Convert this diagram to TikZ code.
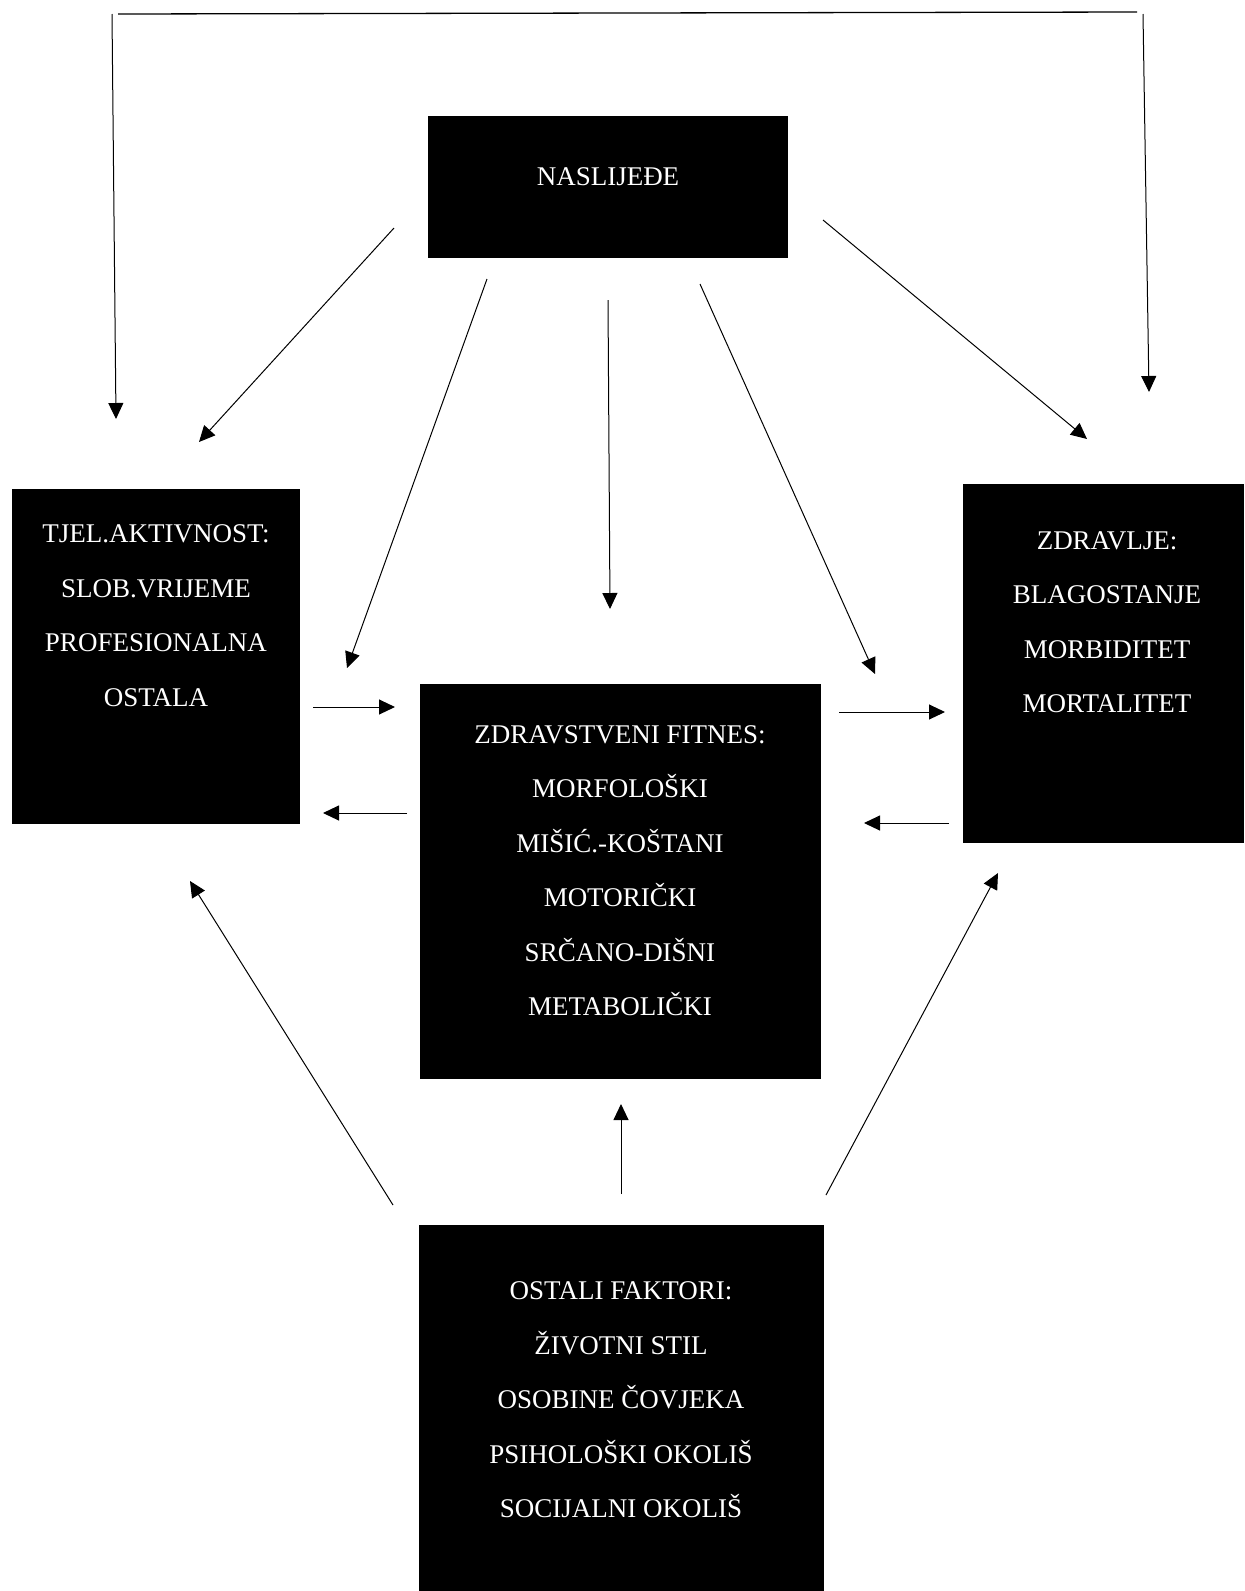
\documentclass[tikz,border=0pt]{standalone}
\usepackage{fontspec}
\setmainfont{Liberation Serif}
\usetikzlibrary{arrows.meta}

\begin{document}
\begin{tikzpicture}[x=0.5pt, y=-0.5pt,
    box/.style={fill=black, inner sep=0pt},
    boxtext/.style={text=white, align=center, inner sep=0pt,
        font=\fontsize{13.5pt}{27.25pt}\selectfont},
    arr/.style={-{Triangle[length=8pt,width=7.5pt]}, line width=0.5pt}]

    % Fix the size of the page
    \useasboundingbox (0,0) rectangle (1244,1591);

    % Draw the black boxes
    \node[box, minimum width=180pt, minimum height=71pt] (naslijede) at (608,187) {};
    \node[box, minimum width=144pt, minimum height=167.5pt] (aktivnost) at (156,656.5) {};
    \node[box, minimum width=200.5pt, minimum height=197.5pt] (fitnes) at (620.5,881.5) {};
    \node[box, minimum width=140.5pt, minimum height=179.5pt] (zdravlje) at (1103.5,663.5) {};
    \node[box, minimum width=202.5pt, minimum height=183pt] (faktori) at (621.5,1408) {};

    % Place the texts inside the boxes
    \node[boxtext] (naslijede-txt) at (608,177) {NASLIJEĐE};
    \node[boxtext] (aktivnost-txt) at (156,615.5)
        {TJEL.AKTIVNOST:\\ SLOB.VRIJEME\\ PROFESIONALNA\\ OSTALA};
    \node[boxtext] (fitnes-txt) at (620,870.5)
        {ZDRAVSTVENI FITNES:\\ MORFOLOŠKI\\ MIŠIĆ.-KOŠTANI\\ MOTORIČKI\\ SRČANO-DIŠNI\\ METABOLIČKI};
    \node[boxtext] (zdravlje-txt) at (1107,622)
        {ZDRAVLJE:\\ BLAGOSTANJE\\ MORBIDITET\\ MORTALITET};
    \node[boxtext] (faktori-txt) at (621,1400)
        {OSTALI FAKTORI:\\ ŽIVOTNI STIL\\ OSOBINE ČOVJEKA\\ PSIHOLOŠKI OKOLIŠ\\ SOCIJALNI OKOLIŠ};

    % Ends of the frame line at the top
    \coordinate (frameL) at (118,14);
    \coordinate (frameR) at (1137,12);
    \coordinate (downL) at (112,14);
    \coordinate (tipL) at (116,419);
    \coordinate (downR) at (1143,14);
    \coordinate (tipR) at (1149,392);

    % Draw the frame line and its two arrows
    \draw[line width=0.65pt] (frameL) -- (frameR);
    \draw[arr] (downL) -- (tipL);
    \draw[arr] (downR) -- (tipR);

    % Ends of the arrows from NASLIJEDE
    \coordinate (n1s) at (394,228);
    \coordinate (n1e) at (199,442);
    \coordinate (n2s) at (487,279);
    \coordinate (n2e) at (347,668);
    \coordinate (n3s) at (608,300);
    \coordinate (n3e) at (610,609);
    \coordinate (n4s) at (700,284);
    \coordinate (n4e) at (875,674);
    \coordinate (n5s) at (823,220);
    \coordinate (n5e) at (1087,439);

    % Draw the arrows from NASLIJEDE
    \foreach \i in {1,...,5}
        \draw[arr] (n\i s) -- (n\i e);

    % Ends of the arrows between the middle boxes
    \coordinate (h1s) at (313,707);
    \coordinate (h1e) at (395,707);
    \coordinate (h2s) at (407,813);
    \coordinate (h2e) at (323,813);
    \coordinate (h3s) at (839,712);
    \coordinate (h3e) at (945,712);
    \coordinate (h4s) at (949,823);
    \coordinate (h4e) at (864,823);

    % Draw the arrows between the middle boxes
    \foreach \i in {1,...,4}
        \draw[arr] (h\i s) -- (h\i e);

    % Ends of the arrows from OSTALI FAKTORI
    \coordinate (b1s) at (393,1205);
    \coordinate (b1e) at (190,881);
    \coordinate (b2s) at (621,1194);
    \coordinate (b2e) at (621,1104);
    \coordinate (b3s) at (826,1195);
    \coordinate (b3e) at (998,873);

    % Draw the arrows from OSTALI FAKTORI
    \foreach \i in {1,...,3}
        \draw[arr] (b\i s) -- (b\i e);

\end{tikzpicture}
\end{document}
